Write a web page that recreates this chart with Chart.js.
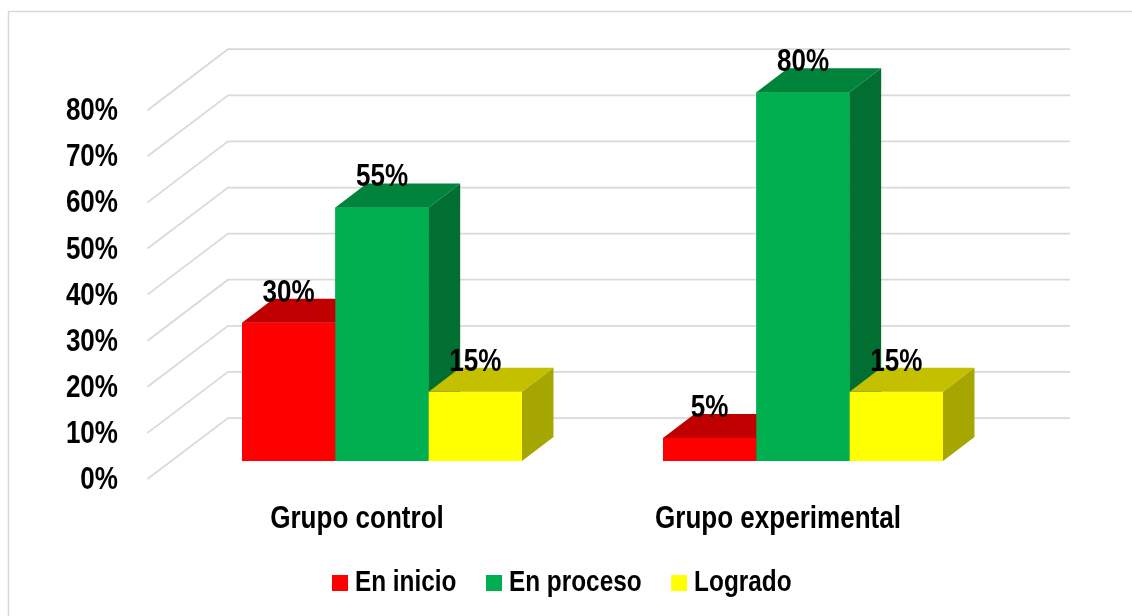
<!DOCTYPE html>
<html>
<head>
<meta charset="utf-8">
<script src="https://cdn.jsdelivr.net/npm/chart.js@4"></script>
<style>
html,body{margin:0;padding:0;background:#ffffff;}
canvas{display:block;}
</style>
</head>
<body>
<canvas id="c" width="1132" height="616"></canvas>
<script>
// ---- data ----
const categories = ['Grupo control', 'Grupo experimental'];
const seriesNames = ['En inicio', 'En proceso', 'Logrado'];
const enInicio = [30, 5];
const enProceso = [55, 80];
const logrado = [15, 15];
const yTickValues = [0, 10, 20, 30, 40, 50, 60, 70, 80];
const yTickLabels = ['0%', '10%', '20%', '30%', '40%', '50%', '60%', '70%', '80%'];

// ---- style ----
const FONT = "'Liberation Sans Narrow', 'Arial Narrow', 'Liberation Sans', Arial, sans-serif";
const NARROW = 0.84; // horizontal condensing of text (no narrow font installed)
const frontColors = ['#ff0000', '#00b050', '#ffff00'];
const topColors = ['#c00000', '#00843c', '#c4c000'];
const sideColors = ['#a00000', '#006f31', '#a6a600'];
const BAR_DX = 31.5, BAR_DY = -24;          // bar depth
const FRONT_DX = -24, FRONT_DY = 18;        // floor front edge vs bar front plane
const BACK_DX = 56.5, BACK_DY = -43;        // back wall vs bar front plane
const GRID_COLOR = '#d9d9d9';

Chart.defaults.font.family = FONT;
Chart.defaults.font.weight = 'bold';
Chart.defaults.font.size = 31;
Chart.defaults.color = '#000000';

const canvas = document.getElementById('c');
const ctx2d = canvas.getContext('2d');
(function condenseText(ctx) {
  const origFill = ctx.fillText.bind(ctx);
  const origMeasure = ctx.measureText.bind(ctx);
  ctx.fillText = function (text, x, y, maxWidth) {
    this.save();
    this.translate(x, y);
    this.scale(NARROW, 1);
    if (maxWidth === undefined) origFill(text, 0, 0);
    else origFill(text, 0, 0, maxWidth / NARROW);
    this.restore();
  };
  ctx.measureText = function (text) {
    const m = origMeasure(text);
    return {
      width: m.width * NARROW,
      actualBoundingBoxLeft: m.actualBoundingBoxLeft * NARROW,
      actualBoundingBoxRight: m.actualBoundingBoxRight * NARROW,
      actualBoundingBoxAscent: m.actualBoundingBoxAscent,
      actualBoundingBoxDescent: m.actualBoundingBoxDescent,
      fontBoundingBoxAscent: m.fontBoundingBoxAscent,
      fontBoundingBoxDescent: m.fontBoundingBoxDescent
    };
  };
})(ctx2d);

function swatch(color) {
  const c = document.createElement('canvas');
  c.width = 43; c.height = 16;
  const g = c.getContext('2d');
  g.fillStyle = color;
  g.fillRect(27, 0, 16, 16);
  return c;
}

const depthPlugin = {
  id: 'depth3d',
  beforeDraw(chart) {
    const ctx = chart.ctx;
    ctx.save();
    ctx.strokeStyle = GRID_COLOR;
    ctx.lineWidth = 1.5;
    ctx.strokeRect(8.5, 11.5, 1400, 900);
    ctx.restore();
  },
  beforeDatasetsDraw(chart) {
    const ctx = chart.ctx, ys = chart.scales.y, a = chart.chartArea;
    ctx.save();
    ctx.strokeStyle = GRID_COLOR;
    ctx.lineWidth = 1.75;
    yTickValues.forEach(v => {
      const p = ys.getPixelForValue(v);
      ctx.beginPath();
      ctx.moveTo(a.left + FRONT_DX, p + FRONT_DY);
      ctx.lineTo(a.left + BACK_DX, p + BACK_DY);
      ctx.lineTo(a.right + BACK_DX, p + BACK_DY);
      ctx.stroke();
    });
    ctx.restore();
  },
  afterDatasetsDraw(chart) {
    const ctx = chart.ctx;
    const metas = chart.data.datasets.map((d, i) => chart.getDatasetMeta(i));
    ctx.save();
    for (let c = 0; c < categories.length; c++) {
      metas.forEach((meta, d) => {
        const el = meta.data[c];
        if (!el) return;
        const {x, y, base, width} = el.getProps(['x', 'y', 'base', 'width'], true);
        const l = x - width / 2, r = x + width / 2;
        ctx.fillStyle = frontColors[d];
        ctx.fillRect(l, y, width, base - y);
        ctx.fillStyle = topColors[d];
        ctx.beginPath();
        ctx.moveTo(l, y); ctx.lineTo(l + BAR_DX, y + BAR_DY);
        ctx.lineTo(r + BAR_DX, y + BAR_DY); ctx.lineTo(r, y);
        ctx.closePath(); ctx.fill();
        ctx.fillStyle = sideColors[d];
        ctx.beginPath();
        ctx.moveTo(r, y); ctx.lineTo(r + BAR_DX, y + BAR_DY);
        ctx.lineTo(r + BAR_DX, base + BAR_DY); ctx.lineTo(r, base);
        ctx.closePath(); ctx.fill();
      });
    }
    ctx.fillStyle = '#000000';
    ctx.font = 'bold 31px ' + FONT;
    ctx.textAlign = 'center';
    ctx.textBaseline = 'middle';
    metas.forEach((meta, d) => {
      meta.data.forEach((el, c) => {
        const {x, y} = el.getProps(['x', 'y'], true);
        const v = chart.data.datasets[d].data[c];
        ctx.fillText(v + '%', x, y - 29.5);
      });
    });
    ctx.restore();
  }
};

new Chart(canvas, {
  type: 'bar',
  data: {
    labels: categories,
    datasets: [
      {label: seriesNames[0], data: enInicio, backgroundColor: frontColors[0]},
      {label: seriesNames[1], data: enProceso, backgroundColor: frontColors[1]},
      {label: seriesNames[2], data: logrado, backgroundColor: frontColors[2]}
    ]
  },
  options: {
    responsive: false,
    animation: false,
    devicePixelRatio: 1,
    barPercentage: 1,
    categoryPercentage: 0.665,
    layout: {padding: {left: 10, right: 38, top: 92.2, bottom: 8.5}},
    scales: {
      x: {
        grid: {display: false, drawTicks: false},
        border: {display: false},
        ticks: {padding: 39.5, labelOffset: -25, font: {size: 31, weight: 'bold'}, color: '#000'},
        afterFit(s) { s.height = 97.5; }
      },
      y: {
        min: 0, max: 80,
        grid: {display: false, drawTicks: false},
        border: {display: false},
        afterBuildTicks(s) { s.ticks = yTickValues.map(v => ({value: v})); },
        ticks: {
          padding: 53.5, labelOffset: 19.5, font: {size: 31, weight: 'bold'}, color: '#000',
          callback: v => yTickLabels[yTickValues.indexOf(v)]
        },
        afterFit(s) { s.width = 161.5; }
      },
      yRight: {
        position: 'right',
        display: true,
        grid: {display: false, drawTicks: false},
        border: {display: false},
        ticks: {display: false},
        afterFit(s) { s.width = 80.5; }
      }
    },
    plugins: {
      tooltip: {enabled: false},
      legend: {
        position: 'bottom',
        labels: {
          usePointStyle: true,
          boxWidth: 28,
          boxHeight: 16,
          padding: 10,
          color: '#000',
          font: {size: 29, weight: 'bold'},
          generateLabels(chart) {
            const items = Chart.defaults.plugins.legend.labels.generateLabels(chart);
            items.forEach(it => { it.pointStyle = swatch(it.fillStyle); });
            return items;
          }
        }
      }
    }
  },
  plugins: [depthPlugin]
});
</script>
</body>
</html>
